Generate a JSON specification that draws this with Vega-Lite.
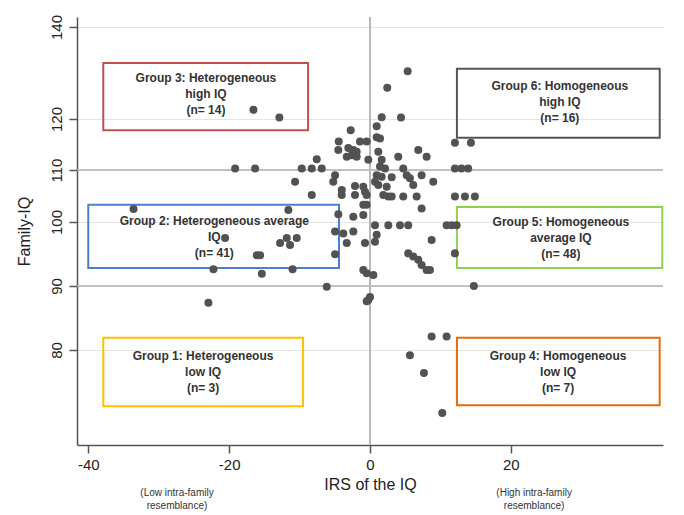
{
  "$schema": "https://vega.github.io/schema/vega-lite/v6.json",
  "width": 586,
  "height": 428,
  "autosize": {"type": "none"},
  "padding": {"left": 77, "top": 17, "right": 21, "bottom": 70},
  "config": {
    "view": {"stroke": null},
    "font": "Liberation Sans",
    "axis": {
      "domainColor": "#555555", "domainWidth": 1.5, "tickColor": "#555555", "tickWidth": 1.5, "tickSize": 8,
      "labelFont": "Liberation Sans", "labelFontSize": 15, "labelColor": "#222222",
      "titleFont": "Liberation Sans", "titleFontSize": 16, "titleFontWeight": "normal", "titleColor": "#222222"
    }
  },
  "datasets": {
    "points": [
      {"irs": 5.35, "iq": 130.4}, {"irs": 2.45, "iq": 126.8}, {"irs": -16.55, "iq": 122.0}, {"irs": -12.87, "iq": 120.3},
      {"irs": 1.66, "iq": 120.4}, {"irs": 4.40, "iq": 120.3}, {"irs": -2.74, "iq": 117.8}, {"irs": 0.95, "iq": 118.6},
      {"irs": 0.95, "iq": 116.4}, {"irs": 1.42, "iq": 116.2}, {"irs": -4.44, "iq": 115.6}, {"irs": -1.42, "iq": 115.6},
      {"irs": -0.47, "iq": 115.6}, {"irs": -4.50, "iq": 113.9}, {"irs": -3.08, "iq": 114.3}, {"irs": -2.37, "iq": 113.9},
      {"irs": -1.89, "iq": 113.6}, {"irs": -3.30, "iq": 112.6}, {"irs": -2.60, "iq": 112.9}, {"irs": -1.89, "iq": 112.6},
      {"irs": 1.18, "iq": 113.6}, {"irs": 4.01, "iq": 112.6}, {"irs": 6.85, "iq": 113.9}, {"irs": 8.04, "iq": 112.6},
      {"irs": -0.24, "iq": 112.0}, {"irs": 1.66, "iq": 112.0}, {"irs": -7.56, "iq": 112.1}, {"irs": -19.15, "iq": 110.3},
      {"irs": -16.31, "iq": 110.3}, {"irs": -9.69, "iq": 110.3}, {"irs": -8.27, "iq": 110.3}, {"irs": -6.85, "iq": 110.3},
      {"irs": 1.42, "iq": 110.7}, {"irs": 2.13, "iq": 110.3}, {"irs": 4.72, "iq": 110.3}, {"irs": 12.06, "iq": 110.3},
      {"irs": 13.0, "iq": 110.3}, {"irs": 13.94, "iq": 110.3}, {"irs": -4.96, "iq": 109.0}, {"irs": 0.95, "iq": 109.0},
      {"irs": 1.66, "iq": 108.7}, {"irs": 3.08, "iq": 108.6}, {"irs": 5.21, "iq": 109.0}, {"irs": 5.67, "iq": 108.4},
      {"irs": 7.33, "iq": 109.0}, {"irs": -10.64, "iq": 107.75}, {"irs": -5.21, "iq": 107.75}, {"irs": 0.71, "iq": 107.75},
      {"irs": 1.18, "iq": 107.1}, {"irs": 2.37, "iq": 106.8}, {"irs": 6.14, "iq": 107.1}, {"irs": 8.98, "iq": 107.75},
      {"irs": -2.13, "iq": 106.9}, {"irs": -0.95, "iq": 106.8}, {"irs": -4.01, "iq": 106.15}, {"irs": -4.01, "iq": 105.2},
      {"irs": -8.27, "iq": 105.2}, {"irs": -2.13, "iq": 105.2}, {"irs": -0.71, "iq": 105.8}, {"irs": -0.47, "iq": 105.2},
      {"irs": 1.89, "iq": 105.2}, {"irs": 2.60, "iq": 104.9}, {"irs": 3.08, "iq": 104.9}, {"irs": 4.72, "iq": 104.9},
      {"irs": 6.62, "iq": 104.9}, {"irs": 12.06, "iq": 104.9}, {"irs": 13.48, "iq": 104.9}, {"irs": 14.89, "iq": 104.9},
      {"irs": -0.95, "iq": 103.3}, {"irs": -0.47, "iq": 103.3}, {"irs": 7.33, "iq": 102.6}, {"irs": -11.59, "iq": 102.3},
      {"irs": -4.50, "iq": 101.5}, {"irs": -2.37, "iq": 101.0}, {"irs": -0.95, "iq": 101.35}, {"irs": 0.71, "iq": 99.5},
      {"irs": 2.60, "iq": 99.5}, {"irs": 4.26, "iq": 99.5}, {"irs": 5.43, "iq": 99.5}, {"irs": 10.88, "iq": 99.5},
      {"irs": 11.59, "iq": 99.5}, {"irs": 12.30, "iq": 99.5}, {"irs": -4.96, "iq": 98.5}, {"irs": -3.79, "iq": 98.2},
      {"irs": -2.37, "iq": 98.5}, {"irs": 0.95, "iq": 98.0}, {"irs": 0.71, "iq": 96.9}, {"irs": -0.71, "iq": 96.7},
      {"irs": -3.30, "iq": 96.7}, {"irs": -12.77, "iq": 96.7}, {"irs": -11.82, "iq": 97.5}, {"irs": -11.35, "iq": 96.4},
      {"irs": -10.40, "iq": 97.5}, {"irs": -20.57, "iq": 97.5}, {"irs": 8.75, "iq": 97.2}, {"irs": 12.06, "iq": 95.1},
      {"irs": -16.07, "iq": 94.8}, {"irs": -15.60, "iq": 94.8}, {"irs": -4.96, "iq": 94.95}, {"irs": 5.43, "iq": 95.1},
      {"irs": 6.14, "iq": 94.6}, {"irs": 6.85, "iq": 94.1}, {"irs": 7.33, "iq": 93.3}, {"irs": 8.04, "iq": 92.5},
      {"irs": 8.51, "iq": 92.5}, {"irs": -22.23, "iq": 92.6}, {"irs": -15.36, "iq": 91.9}, {"irs": -10.99, "iq": 92.6},
      {"irs": -0.95, "iq": 92.5}, {"irs": -0.47, "iq": 92.0}, {"irs": 0.47, "iq": 91.7}, {"irs": -6.14, "iq": 89.9},
      {"irs": 14.75, "iq": 90.0}, {"irs": -22.94, "iq": 87.4}, {"irs": -0.24, "iq": 87.8}, {"irs": 0.0, "iq": 88.3},
      {"irs": -0.47, "iq": 87.6}, {"irs": 8.75, "iq": 82.1}, {"irs": 10.88, "iq": 82.1}, {"irs": 5.67, "iq": 79.2},
      {"irs": 7.66, "iq": 76.4}, {"irs": 10.26, "iq": 70.2}, {"irs": -33.57, "iq": 102.5}, {"irs": 12.06, "iq": 115.35},
      {"irs": 14.33, "iq": 115.35}
    ],
    "boxes": [
      {"group": "Group 3", "x1": -37.87, "x2": -8.79, "y1": 132.2, "y2": 117.8, "tx": -23.3, "ty": 128.9, "label": "Group 3: Heterogeneous\nhigh IQ\n(n= 14)"},
      {"group": "Group 6", "x1": 12.34, "x2": 41.13, "y1": 130.9, "y2": 116.3, "tx": 26.95, "ty": 127.2, "label": "Group 6: Homogeneous\nhigh IQ\n(n= 16)"},
      {"group": "Group 2", "x1": -40.0, "x2": -4.40, "y1": 103.3, "y2": 92.8, "tx": -22.1, "ty": 100.2, "label": "Group 2: Heterogeneous average\nIQ\n(n= 41)"},
      {"group": "Group 5", "x1": 12.34, "x2": 41.5, "y1": 102.9, "y2": 92.8, "tx": 27.1, "ty": 100.0, "label": "Group 5: Homogeneous\naverage IQ\n(n= 48)"},
      {"group": "Group 1", "x1": -37.87, "x2": -9.50, "y1": 81.9, "y2": 71.25, "tx": -23.7, "ty": 79.06, "label": "Group 1: Heterogeneous\nlow IQ\n(n= 3)"},
      {"group": "Group 4", "x1": 12.34, "x2": 41.13, "y1": 81.9, "y2": 71.4, "tx": 26.7, "ty": 79.06, "label": "Group 4: Homogeneous\nlow IQ\n(n= 7)"}
    ],
    "hlines": [{"v": 110}, {"v": 90}],
    "vlines": [{"v": 0}],
    "notes": [
      {"ax": -27.4, "ay": 57.72, "label": "(Low intra-family\nresemblance)"},
      {"ax": 23.3, "ay": 57.72, "label": "(High intra-family\nresemblance)"}
    ]
  },
  "layer": [
    {
      "data": {"name": "hlines"},
      "mark": {"type": "rule", "color": "#b0b0b0", "strokeWidth": 1.5},
      "encoding": {
        "y": {"field": "v", "type": "quantitative",
          "scale": {"domain": [65.2, 80, 90, 100, 110, 120, 140, 142.2], "range": [428, 333, 269, 205, 153, 102, 10, 0], "nice": false, "zero": false},
          "axis": {"values": [80, 90, 100, 110, 120, 140], "title": "Family-IQ", "labelAngle": -90, "labelAlign": "center", "labelBaseline": "bottom", "labelPadding": 5, "grid": true, "gridColor": "#e4e4e4", "gridWidth": 1, "titlePadding": 17}
        }
      }
    },
    {
      "data": {"name": "vlines"},
      "mark": {"type": "rule", "color": "#b8b8b8", "strokeWidth": 2},
      "encoding": {
        "x": {"field": "v", "type": "quantitative",
          "scale": {"domain": [-41.6, 41.6], "nice": false, "zero": false},
          "axis": {"values": [-40, -20, 0, 20], "title": "IRS of the IQ", "grid": false, "labelPadding": 4, "titlePadding": 4, "labelExpr": "replace(datum.label, '−', '-')"}
        }
      }
    },
    {
      "data": {"name": "boxes"},
      "mark": {"type": "rect", "fillOpacity": 0, "strokeWidth": 2},
      "encoding": {
        "x": {"field": "x1", "type": "quantitative", "scale": {"domain": [-41.6, 41.6], "nice": false, "zero": false}},
        "x2": {"field": "x2"},
        "y": {"field": "y1", "type": "quantitative", "scale": {"domain": [65.2, 80, 90, 100, 110, 120, 140, 142.2], "range": [428, 333, 269, 205, 153, 102, 10, 0], "nice": false, "zero": false}},
        "y2": {"field": "y2"},
        "stroke": {"field": "group", "type": "nominal", "legend": null,
          "scale": {"domain": ["Group 1", "Group 2", "Group 3", "Group 4", "Group 5", "Group 6"], "range": ["#ffc000", "#4a7fd0", "#c0504d", "#e46c0a", "#8ed14f", "#555555"]}}
      }
    },
    {
      "data": {"name": "points"},
      "mark": {"type": "circle", "size": 64, "color": "#525252", "opacity": 1},
      "encoding": {
        "x": {"field": "irs", "type": "quantitative", "scale": {"domain": [-41.6, 41.6], "nice": false, "zero": false}},
        "y": {"field": "iq", "type": "quantitative", "scale": {"domain": [65.2, 80, 90, 100, 110, 120, 140, 142.2], "range": [428, 333, 269, 205, 153, 102, 10, 0], "nice": false, "zero": false}}
      }
    },
    {
      "data": {"name": "boxes"},
      "mark": {"type": "text", "lineBreak": "\n", "font": "Liberation Sans", "fontWeight": "bold", "fontSize": 12, "lineHeight": 16, "color": "#333333", "align": "center", "baseline": "middle"},
      "encoding": {
        "x": {"field": "tx", "type": "quantitative", "scale": {"domain": [-41.6, 41.6], "nice": false, "zero": false}},
        "y": {"field": "ty", "type": "quantitative", "scale": {"domain": [65.2, 80, 90, 100, 110, 120, 140, 142.2], "range": [428, 333, 269, 205, 153, 102, 10, 0], "nice": false, "zero": false}},
        "text": {"field": "label"}
      }
    },
    {
      "data": {"name": "notes"},
      "mark": {"type": "text", "lineBreak": "\n", "font": "Liberation Sans", "fontSize": 10, "lineHeight": 13, "color": "#333333", "align": "center", "baseline": "middle"},
      "encoding": {
        "x": {"field": "ax", "type": "quantitative", "scale": {"domain": [-41.6, 41.6], "nice": false, "zero": false}},
        "y": {"field": "ay", "type": "quantitative", "scale": {"domain": [65.2, 80, 90, 100, 110, 120, 140, 142.2], "range": [428, 333, 269, 205, 153, 102, 10, 0], "nice": false, "zero": false}},
        "text": {"field": "label"}
      }
    }
  ]
}
